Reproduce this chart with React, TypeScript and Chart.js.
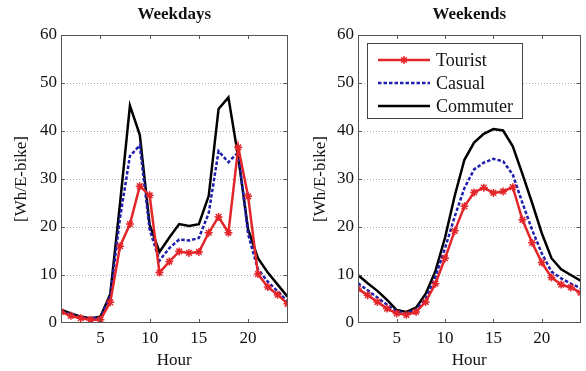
import React, { useEffect, useRef } from 'react';
import { Chart, registerables } from 'chart.js';

Chart.register(...registerables);

const hours = [1, 2, 3, 4, 5, 6, 7, 8, 9, 10, 11, 12, 13, 14, 15, 16, 17, 18, 19, 20, 21, 22, 23, 24];
const xTickValues = [5, 10, 15, 20];
const gridValues = [10, 20, 30, 40, 50];
const seriesNames = ['Tourist', 'Casual', 'Commuter'];

const weekdayTourist = [2.3, 1.5, 1.0, 0.7, 0.7, 4.3, 16.0, 20.6, 28.5, 26.6, 10.5, 12.8, 14.9, 14.6, 14.8, 18.8, 22.1, 18.8, 36.6, 26.4, 10.2, 7.5, 5.9, 4.0];
const weekdayCasual = [2.4, 1.8, 1.2, 0.9, 1.1, 5.5, 22.0, 34.8, 37.0, 19.5, 13.0, 15.6, 17.4, 17.2, 17.7, 22.9, 35.8, 33.5, 35.6, 18.5, 11.2, 8.6, 6.6, 4.5];
const weekdayCommuter = [2.8, 2.0, 1.3, 1.0, 1.3, 6.0, 25.0, 45.3, 39.2, 20.5, 14.8, 17.8, 20.6, 20.2, 20.6, 26.5, 44.6, 47.0, 34.5, 19.5, 13.5, 10.5, 8.0, 5.5];

const weekendTourist = [7.1, 5.8, 4.4, 3.0, 2.0, 1.7, 2.3, 4.4, 8.2, 13.5, 19.2, 24.3, 27.2, 28.2, 27.1, 27.4, 28.3, 21.5, 16.7, 12.6, 9.5, 8.0, 7.4, 6.3];
const weekendCasual = [8.3, 6.8, 5.3, 3.8, 2.4, 2.0, 2.8, 5.0, 9.6, 15.6, 22.2, 28.1, 32.0, 33.4, 34.2, 33.7, 30.9, 25.0, 19.4, 14.5, 10.7, 9.3, 8.2, 7.3];
const weekendCommuter = [10.0, 8.3, 6.7, 4.8, 2.7, 2.3, 3.2, 6.1, 10.8, 17.8, 26.5, 34.0, 37.6, 39.4, 40.4, 40.1, 36.8, 31.0, 25.0, 18.7, 13.5, 11.2, 10.0, 8.8];

const FONT = '"Liberation Serif", "Times New Roman", serif';
const RED = '#e3262a';
const BLUE = '#1f1fae';
const BLACK = '#000000';

function drawStar(ctx: CanvasRenderingContext2D, x: number, y: number, r: number) {
  ctx.beginPath();
  ctx.moveTo(x - r, y);
  ctx.lineTo(x + r, y);
  ctx.moveTo(x, y - r);
  ctx.lineTo(x, y + r);
  const d = r * Math.SQRT1_2;
  ctx.moveTo(x - d, y - d);
  ctx.lineTo(x + d, y + d);
  ctx.moveTo(x - d, y + d);
  ctx.lineTo(x + d, y - d);
  ctx.stroke();
}

const framePlugin = {
  id: 'frame',
  beforeDatasetsDraw(chart: any) {
    const { ctx, chartArea: a, scales } = chart;
    ctx.save();
    ctx.strokeStyle = '#a8a8a8';
    ctx.lineWidth = 1;
    ctx.setLineDash([1, 2]);
    for (const v of gridValues) {
      const y = Math.round(scales.y.getPixelForValue(v)) + 0.5;
      ctx.beginPath();
      ctx.moveTo(a.left, y);
      ctx.lineTo(a.right, y);
      ctx.stroke();
    }
    ctx.restore();
  },
  afterDatasetsDraw(chart: any, _args: any, opts: any) {
    const { ctx, chartArea: a, scales } = chart;
    ctx.save();
    ctx.strokeStyle = '#555';
    ctx.lineWidth = 1;
    ctx.strokeRect(Math.round(a.left) + 0.5, Math.round(a.top) + 0.5, Math.round(a.right - a.left) - 1, Math.round(a.bottom - a.top) - 1);
    const tl = 4;
    ctx.beginPath();
    for (const v of xTickValues) {
      const x = Math.round(scales.x.getPixelForValue(v)) + 0.5;
      ctx.moveTo(x, a.bottom);
      ctx.lineTo(x, a.bottom - tl);
      ctx.moveTo(x, a.top);
      ctx.lineTo(x, a.top + tl);
    }
    for (const v of gridValues) {
      const y = Math.round(scales.y.getPixelForValue(v)) + 0.5;
      ctx.moveTo(a.left, y);
      ctx.lineTo(a.left + tl, y);
      ctx.moveTo(a.right, y);
      ctx.lineTo(a.right - tl, y);
    }
    ctx.stroke();

    // title
    ctx.fillStyle = '#111';
    ctx.font = `bold 17px ${FONT}`;
    ctx.textAlign = 'center';
    ctx.textBaseline = 'middle';
    ctx.fillText(opts.title, (a.left + a.right) / 2, 15);

    if (opts.legend) {
      const bx = 74, by = 43, bw = 155, bh = 75;
      ctx.fillStyle = '#fff';
      ctx.fillRect(bx, by, bw, bh);
      ctx.strokeStyle = '#444';
      ctx.lineWidth = 1;
      ctx.strokeRect(bx + 0.5, by + 0.5, bw, bh);
      const rows = [60, 83, 106];
      chart.data.datasets.forEach((ds: any, i: number) => {
        const y = rows[i];
        ctx.save();
        ctx.strokeStyle = ds.borderColor;
        ctx.lineWidth = ds.borderWidth;
        ctx.setLineDash(ds.borderDash || []);
        ctx.beginPath();
        ctx.moveTo(85, y);
        ctx.lineTo(137, y);
        ctx.stroke();
        ctx.setLineDash([]);
        if (ds.pointRadius > 0) {
          ctx.lineWidth = 1.5;
          drawStar(ctx, 111, y, 4);
        }
        ctx.restore();
        ctx.fillStyle = '#111';
        ctx.font = `18px ${FONT}`;
        ctx.textAlign = 'left';
        ctx.textBaseline = 'middle';
        ctx.fillText(ds.label, 143, y + 1);
      });
    }
    ctx.restore();
  },
};

function makeDatasets(tourist: number[], casual: number[], commuter: number[]) {
  const pts = (arr: number[]) => hours.map((h, i) => ({ x: h, y: arr[i] }));
  return [
    {
      label: seriesNames[0],
      data: pts(tourist),
      borderColor: RED,
      backgroundColor: RED,
      borderWidth: 2.5,
      pointStyle: 'star',
      pointRadius: 4,
      pointBorderWidth: 1.5,
      pointBorderColor: RED,
      tension: 0,
    },
    {
      label: seriesNames[1],
      data: pts(casual),
      borderColor: BLUE,
      borderWidth: 2.5,
      borderDash: [3.5, 2],
      pointRadius: 0,
      tension: 0,
    },
    {
      label: seriesNames[2],
      data: pts(commuter),
      borderColor: BLACK,
      borderWidth: 2.5,
      pointRadius: 0,
      tension: 0,
    },
  ];
}

function Panel(props: { title: string; tourist: number[]; casual: number[]; commuter: number[]; yWidth: number; rightPad: number; yTitlePad: number; legend: boolean }) {
  const ref = useRef<HTMLCanvasElement>(null);
  useEffect(() => {
    if (!ref.current) return;
    const tickFont = { family: FONT, size: 17 };
    const chart = new Chart(ref.current, {
      type: 'line',
      data: { datasets: makeDatasets(props.tourist, props.casual, props.commuter) as any },
      options: {
        animation: false,
        responsive: false,
        layout: { padding: { top: 35, right: props.rightPad, bottom: 0, left: 0 } },
        plugins: {
          legend: { display: false },
          tooltip: { enabled: false },
          title: { display: false },
          frame: { title: props.title, legend: props.legend },
        } as any,
        scales: {
          x: {
            type: 'linear',
            min: 1,
            max: 24,
            grid: { display: false, drawTicks: false },
            border: { display: false },
            afterBuildTicks: (s: any) => {
              s.ticks = xTickValues.map((v) => ({ value: v }));
            },
            afterFit: (s: any) => {
              s.height = 48;
            },
            ticks: { font: tickFont, color: '#111', padding: 5, maxRotation: 0, autoSkip: false },
            title: { display: true, text: 'Hour', font: { family: FONT, size: 17 }, color: '#111', padding: { top: 0, bottom: 0 } },
          },
          y: {
            min: 0,
            max: 60,
            grid: { display: false, drawTicks: false },
            border: { display: false },
            ticks: { stepSize: 10, font: tickFont, color: '#111', padding: 4 },
            afterFit: (s: any) => {
              s.width = props.yWidth;
            },
            title: { display: true, text: '[Wh/E-bike]', font: { family: FONT, size: 17 }, color: '#111', padding: { top: props.yTitlePad, bottom: 0 } },
          },
        },
      },
      plugins: [framePlugin],
    });
    return () => chart.destroy();
  }, []);
  return <canvas ref={ref} width={293} height={371} style={{ display: 'block' }} />;
}

export default function App() {
  return (
    <div style={{ position: 'fixed', left: 0, top: 0, width: 586, height: 371, background: '#fff' }}>
      <div style={{ position: 'absolute', left: 0, top: 0, width: 293, height: 371 }}>
        <Panel title="Weekdays" tourist={weekdayTourist} casual={weekdayCasual} commuter={weekdayCommuter} yWidth={61} rightPad={5} yTitlePad={11} legend={false} />
      </div>
      <div style={{ position: 'absolute', left: 293, top: 0, width: 293, height: 371 }}>
        <Panel title="Weekends" tourist={weekendTourist} casual={weekendCasual} commuter={weekendCommuter} yWidth={65} rightPad={2} yTitlePad={17} legend={true} />
      </div>
    </div>
  );
}
